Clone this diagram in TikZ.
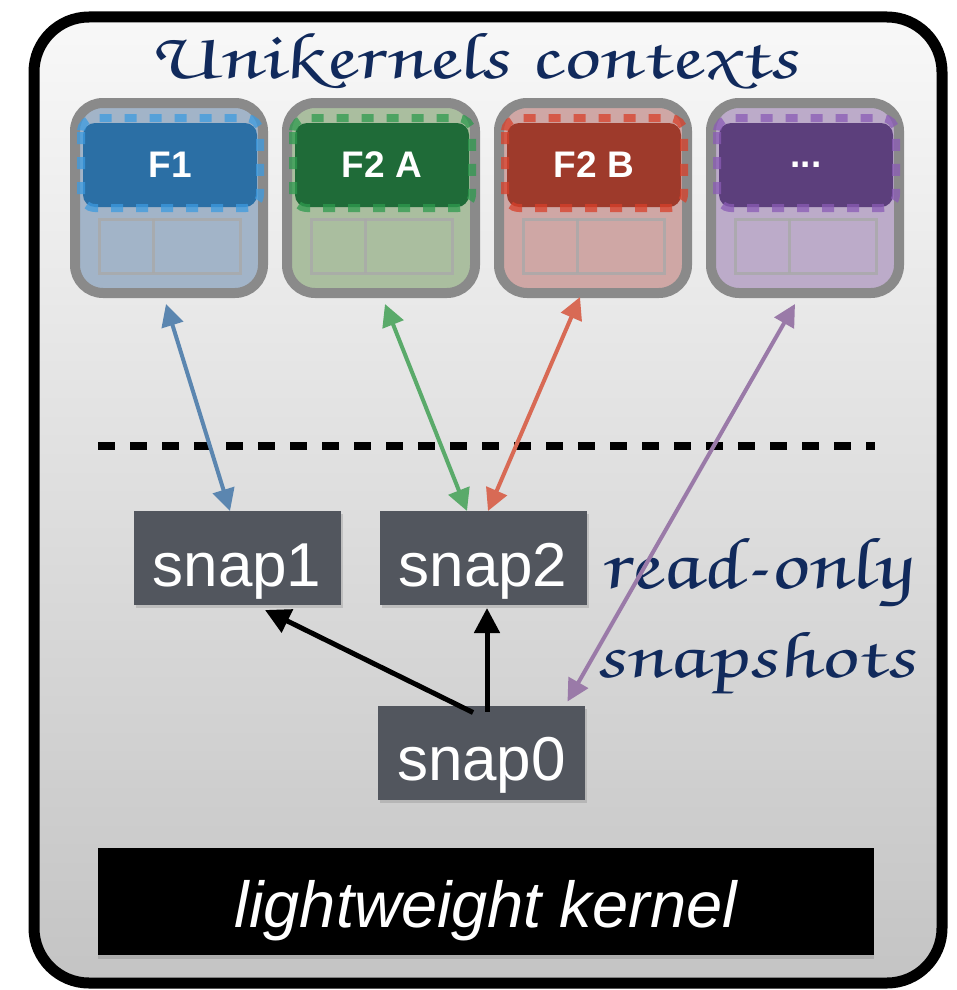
\documentclass[tikz,border=0pt]{standalone}
\usepackage{fontspec}
\setmainfont{Liberation Sans}
\newfontfamily\handfont[FakeSlant=-0.18]{TeX Gyre Chorus}
\usepackage{graphicx}
\usetikzlibrary{arrows.meta,shadows}
\definecolor{ctxgray}{HTML}{8A8A8A}
\definecolor{gridgray}{HTML}{A9A9A9}
\definecolor{snapgray}{HTML}{52565E}
\definecolor{handblue}{HTML}{112A5C}
\definecolor{frametop}{HTML}{F8F8F8}
\definecolor{framebot}{HTML}{C4C4C4}
\definecolor{bA}{HTML}{A2B4C8}\definecolor{bB}{HTML}{2B6FA5}\definecolor{bC}{HTML}{3D9BE0}
\definecolor{gA}{HTML}{AABE9F}\definecolor{gB}{HTML}{1F6B38}\definecolor{gC}{HTML}{2E9A4E}
\definecolor{rA}{HTML}{CFA7A5}\definecolor{rB}{HTML}{9E3A2B}\definecolor{rC}{HTML}{D8402A}
\definecolor{pA}{HTML}{BCABC9}\definecolor{pB}{HTML}{5C3F7C}\definecolor{pC}{HTML}{8A5CB5}
\definecolor{arrBlue}{HTML}{5B86B0}
\definecolor{arrGreen}{HTML}{5AAA6A}
\definecolor{arrRed}{HTML}{D86A55}
\definecolor{arrPurple}{HTML}{9A7AA8}
\newcommand\ctxbox[6]{%
  \node[ctx, fill=#3] (#1) at (#2,198) {};
  \draw[gridline] (#2-70,219) rectangle (#2+71,273);
  \draw[gridline] (#2-16,219) -- (#2-16,273);
  \node[fbox, fill=#4] (#1f) at (#2+1,165) {#6};
  \draw[fdash, draw=#5] (#2-88,118) rectangle (#2+91,208);
}
\begin{document}
\begin{tikzpicture}[x=1pt,y=-1pt,
  ctx/.style={draw=ctxgray, line width=10pt, rounded corners=28pt, minimum width=188pt, minimum height=190pt, inner sep=0pt, outer sep=0pt},
  fbox/.style={rounded corners=12pt, minimum width=174pt, minimum height=84pt, inner sep=0pt, outer sep=0pt, text=white, font=\fontsize{37}{44}\selectfont\bfseries},
  fdash/.style={dash pattern=on 12pt off 13pt, line width=8pt, rounded corners=14pt, opacity=0.75},
  gridline/.style={draw=gridgray, line width=3pt, opacity=0.8},
  snapbox/.style={fill=snapgray, text=white, minimum width=207pt, minimum height=94pt, inner sep=0pt, outer sep=0pt, text height=64pt, text depth=8pt, font=\fontsize{62}{70}\selectfont, drop shadow={shadow xshift=2pt, shadow yshift=-3pt, opacity=0.3}},
  link/.style={line width=4pt, {Triangle[length=22pt,width=22pt]}-{Triangle[length=22pt,width=22pt]}},
  tree/.style={line width=5pt, -{Triangle[length=25pt,width=25pt]}},
  hand/.style={text=handblue, inner sep=0pt, anchor=base west}
]
\useasboundingbox (0,0) rectangle (957,990);
\fill[white] (0,0) rectangle (957,990);
% outer frame
\shade[top color=frametop, bottom color=framebot, rounded corners=55pt] (34,17) rectangle (942,983);
\draw[line width=11pt, rounded corners=55pt] (34,17) rectangle (942,983);
% title
\node[hand] (title) at (152,78) {\resizebox{648pt}{45pt}{\handfont Unikernels contexts}};
% context boxes
\ctxbox{c0}{169}{bA}{bB}{bC}{F1}
\ctxbox{c1}{381}{gA}{gB}{gC}{F2 A}
\ctxbox{c2}{593}{rA}{rB}{rC}{F2 B}
\ctxbox{c3}{805}{pA}{pB}{pC}{...}
% dashed separator
\coordinate (dl) at (98,446);
\coordinate (dr) at (875,446);
\draw[line width=8pt, dash pattern=on 17pt off 15pt] (dl) -- (dr);
% snapshots
\node[snapbox] (s1) at (237,558) {snap1};
\node[snapbox] (s2) at (483,558) {snap2};
\node[snapbox] (s0) at (481.5,752.5) {snap0};
% read-only snapshots
\node[hand] (ro1) at (602,588) {\resizebox{310pt}{50pt}{\handfont read-only}};
\node[hand] (ro2) at (597,677) {\resizebox{320pt}{45pt}{\handfont snapshots}};
% links
\draw[link, draw=arrBlue, fill=arrBlue] ([xshift=-3pt,yshift=-11pt]c0.south) -- ([xshift=-7pt]s1.north);
\draw[link, draw=arrGreen, fill=arrGreen] ([xshift=4pt,yshift=-11pt]c1.south) -- ([xshift=-16pt]s2.north);
\draw[link, draw=arrRed, fill=arrRed] ([xshift=-13pt,yshift=-4pt]c2.south) -- ([xshift=5pt]s2.north);
\draw[link, draw=arrPurple, fill=arrPurple] ([xshift=-10pt,yshift=-11pt]c3.south) -- ([xshift=86pt,yshift=4pt]s0.north);
% tree arrows
\draw[tree] ([xshift=-8.5pt,yshift=-7pt]s0.north) -- ([xshift=28pt,yshift=-5pt]s1.south);
\draw[tree] ([xshift=5.5pt,yshift=-6pt]s0.north) -- ([xshift=4pt,yshift=-3pt]s2.south);
% kernel
\node[fill=black, text=white, minimum width=776pt, minimum height=107pt, inner sep=0pt, text height=60pt, text depth=9pt,
  font=\fontsize{65}{75}\selectfont\itshape, drop shadow={shadow xshift=0pt, shadow yshift=-4pt, opacity=0.35}] (k) at (486,901.5) {lightweight kernel};
\end{tikzpicture}
\end{document}
